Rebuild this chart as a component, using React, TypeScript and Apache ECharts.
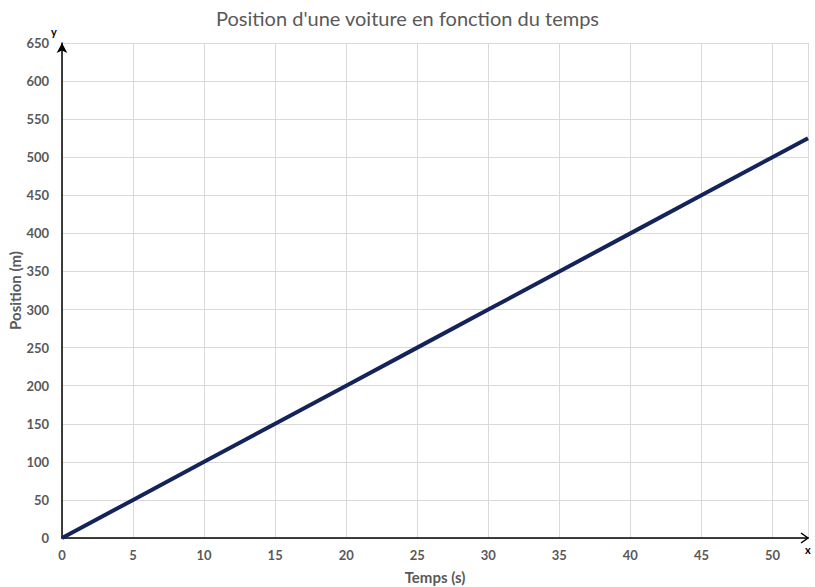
import React, { useEffect, useRef } from "react";
import * as echarts from "echarts";

const title = "Position d'une voiture en fonction du temps";
const times = [0, 5, 10, 15, 20, 25, 30, 35, 40, 45, 50, 52.5];
const positions = [0, 50, 100, 150, 200, 250, 300, 350, 400, 450, 500, 525];
const xName = "Temps (s)";
const yName = "Position (m)";
const xMax = 52.5;
const yMax = 650;

export default function App() {
  const ref = useRef<HTMLDivElement>(null);
  useEffect(() => {
    if (!ref.current) return;
    const chart = echarts.init(ref.current, undefined, { renderer: "svg" });
    const font = "Lato, 'Open Sans', sans-serif";
    const grey = "#595959";
    chart.setOption({
      animation: false,
      title: {
        text: title,
        left: "center",
        top: 3,
        textStyle: { fontFamily: font, fontSize: 20, fontWeight: "normal", color: grey },
      },
      grid: { left: 62, right: 7, top: 43, bottom: 49, containLabel: false, outerBoundsMode: "none" },
      xAxis: {
        type: "value",
        min: 0,
        max: xMax,
        interval: 5,
        name: xName,
        nameLocation: "middle",
        nameGap: 31,
        nameMoveOverlap: false,
        nameTextStyle: { fontFamily: font, fontSize: 15, fontWeight: "bold", color: grey },
        axisLine: { show: true, lineStyle: { color: "#000", width: 1.5 } },
        axisTick: { show: false },
        axisLabel: {
          fontFamily: font, fontSize: 13, fontWeight: "bold", color: grey, margin: 10,
          formatter: (v: number) => (v % 5 === 0 ? String(v) : ""),
          showMaxLabel: false,
        },
        splitLine: { show: true, lineStyle: { color: "#d9d9d9", width: 1 } },
      },
      yAxis: {
        type: "value",
        min: 0,
        max: yMax,
        interval: 50,
        name: yName,
        nameLocation: "middle",
        nameGap: 40,
        nameMoveOverlap: false,
        nameTextStyle: { fontFamily: font, fontSize: 15, fontWeight: "bold", color: grey },
        axisLine: {
          show: true,
          symbol: ["none", "arrow"],
          symbolSize: [8, 10],
          symbolOffset: [0, 0],
          lineStyle: { color: "#000", width: 1.5 },
        },
        axisTick: { show: false },
        axisLabel: { fontFamily: font, fontSize: 13, fontWeight: "bold", color: grey, margin: 13 },
        splitLine: { show: true, lineStyle: { color: "#d9d9d9", width: 1 } },
      },
      series: [
        {
          type: "line",
          data: times.map((t, i) => [t, positions[i]]),
          showSymbol: false,
          lineStyle: { color: "#14245a", width: 4 },
          z: 5,
        },
      ],
    });
    const end = chart.convertToPixel({ gridIndex: 0 }, [xMax, 0]) as number[];
    const top = chart.convertToPixel({ gridIndex: 0 }, [0, yMax]) as number[];
    chart.setOption({
      graphic: [
        {
          type: "polyline",
          shape: { points: [[end[0] - 7, end[1] - 5], [end[0], end[1]], [end[0] - 7, end[1] + 5]] },
          style: { stroke: "#000", lineWidth: 1.5, fill: "none" },
          z: 10,
        },
        {
          type: "text",
          x: end[0] - 3,
          y: end[1] + 6,
          style: { text: "x", font: "bold 11px Lato, sans-serif", fill: "#000" },
        },
        {
          type: "text",
          x: top[0] - 11,
          y: top[1] - 17,
          style: { text: "y", font: "bold 11px Lato, sans-serif", fill: "#000" },
        },
      ],
    });
    return () => chart.dispose();
  }, []);
  return <div ref={ref} style={{ width: 815, height: 587, position: "absolute", left: 0, top: 0 }} />;
}
